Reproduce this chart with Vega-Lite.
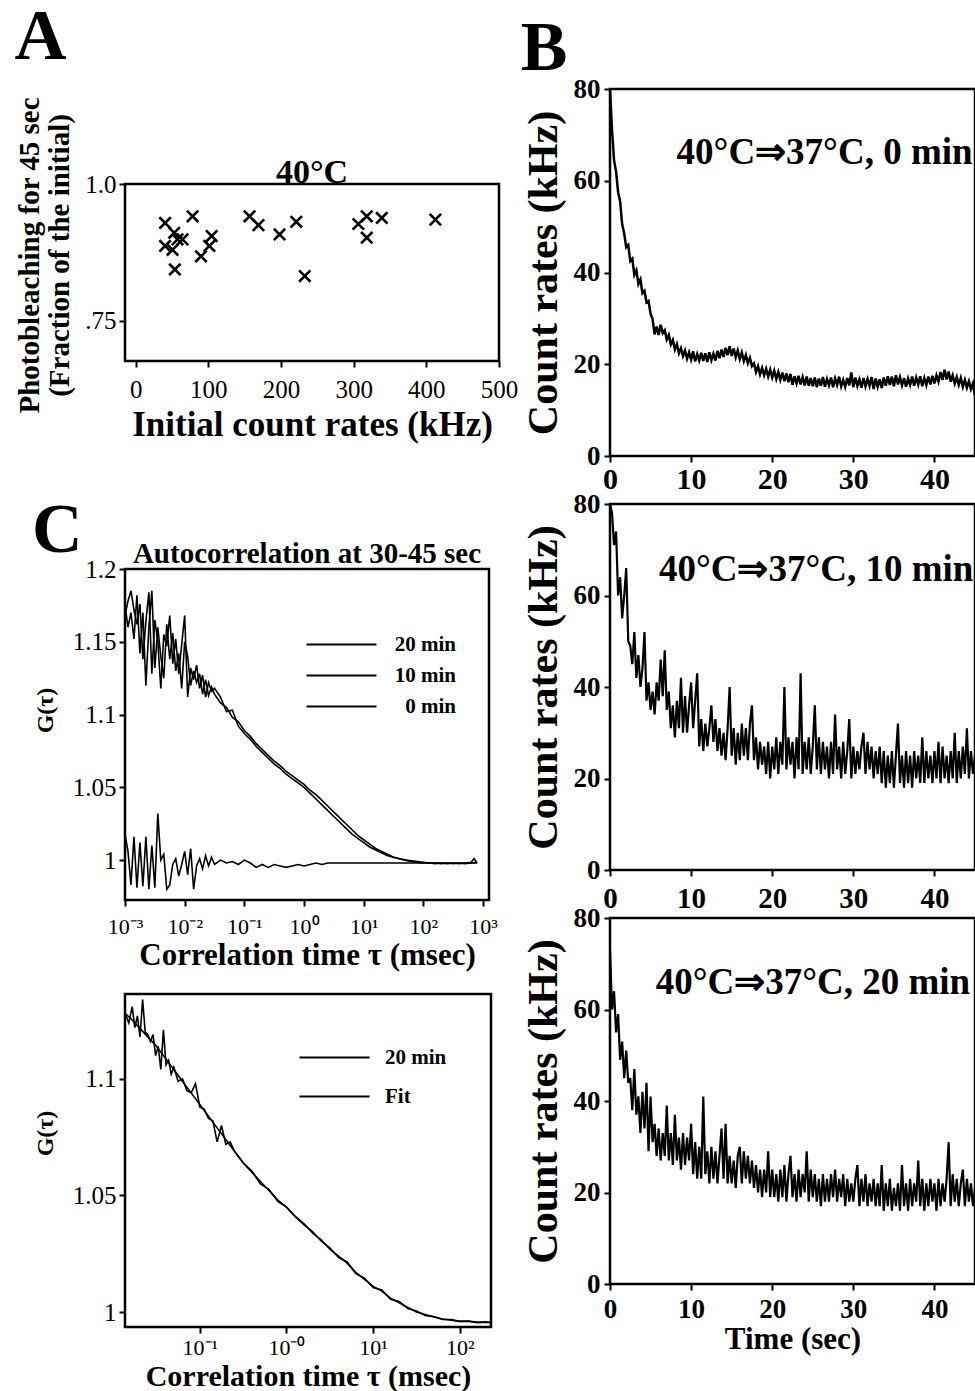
{
"$schema":"https://vega.github.io/schema/vega-lite/v6.json",
"background":"white",
"padding":{"left":14,"top":0,"right":0,"bottom":0},
"config":{
 "font":"Liberation Serif",
 "view":{"stroke":"black","strokeWidth":2.5},
 "axis":{"domain":false,"grid":false,"tickColor":"black","tickWidth":2,"tickSize":6,"labelColor":"black","titleColor":"black","labelFont":"Liberation Serif","titleFont":"Liberation Serif","titleFontWeight":"bold","labelFlush":false,"labelOverlap":false},
 "title":{"font":"Liberation Serif","color":"black","fontWeight":"bold"},
 "legend":{"labelFont":"Liberation Serif","labelColor":"black"},
 "text":{"font":"Liberation Serif","color":"black"}
},
"datasets":{
 "ptsA":[{"r":40.5,"f":0.929},{"r":78.3,"f":0.941},{"r":40.5,"f":0.887},{"r":53,"f":0.911},{"r":57.6,"f":0.899},{"r":64.5,"f":0.899},{"r":50.7,"f":0.88},{"r":53.9,"f":0.844},{"r":89.9,"f":0.868},{"r":104.6,"f":0.905},{"r":101.4,"f":0.887},{"r":156.7,"f":0.941},{"r":169,"f":0.925},{"r":198,"f":0.908},{"r":221,"f":0.931},{"r":232.7,"f":0.832},{"r":306.4,"f":0.927},{"r":318,"f":0.941},{"r":318,"f":0.902},{"r":338.7,"f":0.938},{"r":412.4,"f":0.935}],
 "b0":[
{"t":0,"c":80},{"t":0.25,"c":71},{"t":0.5,"c":64.5},{"t":0.75,"c":62},{"t":1,"c":57.5},{"t":1.25,"c":55.5},{"t":1.5,"c":50.5},{"t":1.75,"c":48.5},{"t":2,"c":45.5},{"t":2.25,"c":46},
{"t":2.5,"c":42.5},{"t":2.75,"c":43},{"t":3,"c":39.5},{"t":3.25,"c":40.5},{"t":3.5,"c":37.5},{"t":3.75,"c":38.5},{"t":4,"c":35.5},{"t":4.25,"c":36},{"t":4.5,"c":33.5},{"t":4.75,"c":33.8},
{"t":5,"c":31},{"t":5.25,"c":29.8},{"t":5.5,"c":26.5},{"t":5.75,"c":28.2},{"t":6,"c":26.4},{"t":6.25,"c":28.6},{"t":6.5,"c":26.8},{"t":6.75,"c":27.4},{"t":7,"c":25.4},{"t":7.25,"c":26.4},
{"t":7.5,"c":24.3},{"t":7.75,"c":25.3},{"t":8,"c":23.2},{"t":8.25,"c":24.4},{"t":8.5,"c":22.4},{"t":8.75,"c":23.5},{"t":9,"c":21.8},{"t":9.25,"c":23},{"t":9.5,"c":21.2},{"t":9.75,"c":22.6},
{"t":10,"c":21},{"t":10.25,"c":22.8},{"t":10.5,"c":20.6},{"t":10.75,"c":22.2},{"t":11,"c":20.8},{"t":11.25,"c":22.5},{"t":11.5,"c":20.7},{"t":11.75,"c":22.4},{"t":12,"c":20.5},{"t":12.25,"c":22.6},
{"t":12.5,"c":20.9},{"t":12.75,"c":22.3},{"t":13,"c":20.8},{"t":13.25,"c":22.9},{"t":13.5,"c":21.3},{"t":13.75,"c":23.2},{"t":14,"c":21.6},{"t":14.25,"c":23.6},{"t":14.5,"c":22},{"t":14.75,"c":23.9},
{"t":15,"c":21.8},{"t":15.25,"c":23.4},{"t":15.5,"c":21.5},{"t":15.75,"c":23},{"t":16,"c":21.1},{"t":16.25,"c":22.6},{"t":16.5,"c":20.7},{"t":16.75,"c":22},{"t":17,"c":20.2},{"t":17.25,"c":21.4},
{"t":17.5,"c":19.6},{"t":17.75,"c":20.2},{"t":18,"c":18.3},{"t":18.25,"c":19.6},{"t":18.5,"c":17.8},{"t":18.75,"c":19.2},{"t":19,"c":17.6},{"t":19.25,"c":19},{"t":19.5,"c":17.3},{"t":19.75,"c":18.8},
{"t":20,"c":17.1},{"t":20.25,"c":18.6},{"t":20.5,"c":16.8},{"t":20.75,"c":18.3},{"t":21,"c":16.6},{"t":21.25,"c":18.2},{"t":21.5,"c":16.3},{"t":21.75,"c":18},{"t":22,"c":16.1},{"t":22.25,"c":17.9},
{"t":22.5,"c":15.5},{"t":22.75,"c":17.4},{"t":23,"c":15.8},{"t":23.25,"c":17.5},{"t":23.5,"c":15.6},{"t":23.75,"c":17.2},{"t":24,"c":15.4},{"t":24.25,"c":17.3},{"t":24.5,"c":15.3},{"t":24.75,"c":17},
{"t":25,"c":15.2},{"t":25.25,"c":17.1},{"t":25.5,"c":15},{"t":25.75,"c":16.9},{"t":26,"c":15.3},{"t":26.25,"c":17.2},{"t":26.5,"c":15.1},{"t":26.75,"c":16.8},{"t":27,"c":15.4},{"t":27.25,"c":17.1},
{"t":27.5,"c":15},{"t":27.75,"c":16.9},{"t":28,"c":15.5},{"t":28.25,"c":17.3},{"t":28.5,"c":15.2},{"t":28.75,"c":16.6},{"t":29,"c":15.1},{"t":29.25,"c":17},{"t":29.5,"c":15.4},{"t":29.75,"c":18.2},
{"t":30,"c":15},{"t":30.25,"c":17.1},{"t":30.5,"c":15.3},{"t":30.75,"c":16.7},{"t":31,"c":14.9},{"t":31.25,"c":17},{"t":31.5,"c":15.2},{"t":31.75,"c":16.8},{"t":32,"c":15.3},{"t":32.25,"c":17.2},
{"t":32.5,"c":14.6},{"t":32.75,"c":16.9},{"t":33,"c":15.1},{"t":33.25,"c":16.7},{"t":33.5,"c":14.8},{"t":33.75,"c":17.1},{"t":34,"c":15.3},{"t":34.25,"c":17.4},{"t":34.5,"c":15.5},{"t":34.75,"c":17.3},
{"t":35,"c":15.2},{"t":35.25,"c":17.6},{"t":35.5,"c":15.6},{"t":35.75,"c":17.2},{"t":36,"c":15.4},{"t":36.25,"c":17},{"t":36.5,"c":15.1},{"t":36.75,"c":16.9},{"t":37,"c":15.5},{"t":37.25,"c":17.3},
{"t":37.5,"c":15.3},{"t":37.75,"c":17.1},{"t":38,"c":15.6},{"t":38.25,"c":17.4},{"t":38.5,"c":15.2},{"t":38.75,"c":17},{"t":39,"c":15.5},{"t":39.25,"c":17.3},{"t":39.5,"c":15.6},{"t":39.75,"c":17.5},
{"t":40,"c":15.8},{"t":40.25,"c":17.6},{"t":40.5,"c":16.2},{"t":40.75,"c":18.3},{"t":41,"c":16.6},{"t":41.25,"c":18.8},{"t":41.5,"c":16.7},{"t":41.75,"c":18.4},{"t":42,"c":16.2},{"t":42.25,"c":17.6},
{"t":42.5,"c":15.8},{"t":42.75,"c":17.2},{"t":43,"c":15.5},{"t":43.25,"c":17},{"t":43.5,"c":15.1},{"t":43.75,"c":16.6},{"t":44,"c":14.9},{"t":44.25,"c":16.3},{"t":44.5,"c":14.6},{"t":44.75,"c":15.8},
{"t":45,"c":13}],
 "b10":[
{"t":0,"c":80},{"t":0.25,"c":78},{"t":0.5,"c":71},{"t":0.75,"c":74},{"t":1,"c":60},{"t":1.25,"c":64},{"t":1.5,"c":55},{"t":1.75,"c":60},{"t":2,"c":66},{"t":2.25,"c":50},
{"t":2.5,"c":49},{"t":2.75,"c":45},{"t":3,"c":52},{"t":3.25,"c":42},{"t":3.5,"c":47},{"t":3.75,"c":40},{"t":4,"c":44},{"t":4.25,"c":52},{"t":4.5,"c":37},{"t":4.75,"c":41},
{"t":5,"c":35},{"t":5.25,"c":39},{"t":5.5,"c":34},{"t":5.75,"c":41},{"t":6,"c":37},{"t":6.25,"c":46},{"t":6.5,"c":38},{"t":6.75,"c":48},{"t":7,"c":35},{"t":7.25,"c":39},
{"t":7.5,"c":31},{"t":7.75,"c":36},{"t":8,"c":29},{"t":8.25,"c":37},{"t":8.5,"c":31},{"t":8.75,"c":42},{"t":9,"c":30},{"t":9.25,"c":38},{"t":9.5,"c":30},{"t":9.75,"c":36},
{"t":10,"c":41},{"t":10.25,"c":31},{"t":10.5,"c":37},{"t":10.75,"c":43},{"t":11,"c":27},{"t":11.25,"c":33},{"t":11.5,"c":26},{"t":11.75,"c":32},{"t":12,"c":27},{"t":12.25,"c":31},
{"t":12.5,"c":36},{"t":12.75,"c":28},{"t":13,"c":33},{"t":13.25,"c":26},{"t":13.5,"c":31},{"t":13.75,"c":25},{"t":14,"c":30},{"t":14.25,"c":24},{"t":14.5,"c":31},{"t":14.75,"c":40},
{"t":15,"c":25},{"t":15.25,"c":31},{"t":15.5,"c":23},{"t":15.75,"c":30},{"t":16,"c":24},{"t":16.25,"c":32},{"t":16.5,"c":25},{"t":16.75,"c":31},{"t":17,"c":24},{"t":17.25,"c":32},
{"t":17.5,"c":36},{"t":17.75,"c":24},{"t":18,"c":29},{"t":18.25,"c":22},{"t":18.5,"c":28},{"t":18.75,"c":23},{"t":19,"c":27},{"t":19.25,"c":21},{"t":19.5,"c":28},{"t":19.75,"c":20},
{"t":20,"c":27},{"t":20.25,"c":22},{"t":20.5,"c":29},{"t":20.75,"c":21},{"t":21,"c":28},{"t":21.25,"c":23},{"t":21.5,"c":40},{"t":21.75,"c":22},{"t":22,"c":29},{"t":22.25,"c":23},
{"t":22.5,"c":28},{"t":22.75,"c":20},{"t":23,"c":29},{"t":23.25,"c":22},{"t":23.5,"c":43},{"t":23.75,"c":21},{"t":24,"c":28},{"t":24.25,"c":22},{"t":24.5,"c":29},{"t":24.75,"c":21},
{"t":25,"c":27},{"t":25.25,"c":36},{"t":25.5,"c":22},{"t":25.75,"c":29},{"t":26,"c":21},{"t":26.25,"c":28},{"t":26.5,"c":22},{"t":26.75,"c":27},{"t":27,"c":20},{"t":27.25,"c":28},
{"t":27.5,"c":21},{"t":27.75,"c":34},{"t":28,"c":22},{"t":28.25,"c":27},{"t":28.5,"c":20},{"t":28.75,"c":28},{"t":29,"c":21},{"t":29.25,"c":26},{"t":29.5,"c":33},{"t":29.75,"c":20},
{"t":30,"c":27},{"t":30.25,"c":21},{"t":30.5,"c":26},{"t":30.75,"c":22},{"t":31,"c":27},{"t":31.25,"c":30},{"t":31.5,"c":21},{"t":31.75,"c":28},{"t":32,"c":22},{"t":32.25,"c":27},
{"t":32.5,"c":20},{"t":32.75,"c":26},{"t":33,"c":21},{"t":33.25,"c":27},{"t":33.5,"c":19},{"t":33.75,"c":26},{"t":34,"c":18},{"t":34.25,"c":25},{"t":34.5,"c":19},{"t":34.75,"c":26},
{"t":35,"c":18},{"t":35.25,"c":25},{"t":35.5,"c":32},{"t":35.75,"c":19},{"t":36,"c":25},{"t":36.25,"c":18},{"t":36.5,"c":26},{"t":36.75,"c":19},{"t":37,"c":25},{"t":37.25,"c":18},
{"t":37.5,"c":26},{"t":37.75,"c":20},{"t":38,"c":25},{"t":38.25,"c":19},{"t":38.5,"c":29},{"t":38.75,"c":19},{"t":39,"c":26},{"t":39.25,"c":20},{"t":39.5,"c":25},{"t":39.75,"c":19},
{"t":40,"c":26},{"t":40.25,"c":20},{"t":40.5,"c":28},{"t":40.75,"c":19},{"t":41,"c":27},{"t":41.25,"c":20},{"t":41.5,"c":25},{"t":41.75,"c":19},{"t":42,"c":26},{"t":42.25,"c":20},
{"t":42.5,"c":30},{"t":42.75,"c":19},{"t":43,"c":26},{"t":43.25,"c":20},{"t":43.5,"c":27},{"t":43.75,"c":21},{"t":44,"c":31},{"t":44.25,"c":20},{"t":44.5,"c":26},{"t":44.75,"c":21},
{"t":45,"c":25}],
 "b20":[
{"t":0,"c":73},{"t":0.25,"c":60},{"t":0.5,"c":64},{"t":0.75,"c":55},{"t":1,"c":59},{"t":1.25,"c":49},{"t":1.5,"c":53},{"t":1.75,"c":45},{"t":2,"c":51},{"t":2.25,"c":44},
{"t":2.5,"c":45},{"t":2.75,"c":38},{"t":3,"c":47},{"t":3.25,"c":37},{"t":3.5,"c":41},{"t":3.75,"c":33},{"t":4,"c":42},{"t":4.25,"c":34},{"t":4.5,"c":44},{"t":4.75,"c":29},
{"t":5,"c":41},{"t":5.25,"c":31},{"t":5.5,"c":35},{"t":5.75,"c":28},{"t":6,"c":34},{"t":6.25,"c":27},{"t":6.5,"c":33},{"t":6.75,"c":28},{"t":7,"c":39},{"t":7.25,"c":27},
{"t":7.5,"c":33},{"t":7.75,"c":26},{"t":8,"c":37},{"t":8.25,"c":27},{"t":8.5,"c":32},{"t":8.75,"c":25},{"t":9,"c":33},{"t":9.25,"c":26},{"t":9.5,"c":32},{"t":9.75,"c":27},
{"t":10,"c":35},{"t":10.25,"c":24},{"t":10.5,"c":31},{"t":10.75,"c":23},{"t":11,"c":30},{"t":11.25,"c":23},{"t":11.5,"c":41},{"t":11.75,"c":24},{"t":12,"c":29},{"t":12.25,"c":22},
{"t":12.5,"c":30},{"t":12.75,"c":23},{"t":13,"c":29},{"t":13.25,"c":22},{"t":13.5,"c":28},{"t":13.75,"c":34},{"t":14,"c":23},{"t":14.25,"c":35},{"t":14.5,"c":22},{"t":14.75,"c":28},
{"t":15,"c":22},{"t":15.25,"c":27},{"t":15.5,"c":21},{"t":15.75,"c":28},{"t":16,"c":30},{"t":16.25,"c":22},{"t":16.5,"c":29},{"t":16.75,"c":23},{"t":17,"c":28},{"t":17.25,"c":22},
{"t":17.5,"c":27},{"t":17.75,"c":21},{"t":18,"c":26},{"t":18.25,"c":20},{"t":18.5,"c":25},{"t":18.75,"c":19},{"t":19,"c":25},{"t":19.25,"c":20},{"t":19.5,"c":29},{"t":19.75,"c":19},
{"t":20,"c":25},{"t":20.25,"c":19},{"t":20.5,"c":24},{"t":20.75,"c":18},{"t":21,"c":25},{"t":21.25,"c":19},{"t":21.5,"c":26},{"t":21.75,"c":18},{"t":22,"c":24},{"t":22.25,"c":28},
{"t":22.5,"c":19},{"t":22.75,"c":24},{"t":23,"c":18},{"t":23.25,"c":25},{"t":23.5,"c":19},{"t":23.75,"c":24},{"t":24,"c":20},{"t":24.25,"c":29},{"t":24.5,"c":18},{"t":24.75,"c":25},
{"t":25,"c":19},{"t":25.25,"c":24},{"t":25.5,"c":18},{"t":25.75,"c":23},{"t":26,"c":17},{"t":26.25,"c":24},{"t":26.5,"c":18},{"t":26.75,"c":23},{"t":27,"c":18},{"t":27.25,"c":24},
{"t":27.5,"c":19},{"t":27.75,"c":25},{"t":28,"c":18},{"t":28.25,"c":23},{"t":28.5,"c":19},{"t":28.75,"c":24},{"t":29,"c":17},{"t":29.25,"c":23},{"t":29.5,"c":18},{"t":29.75,"c":22},
{"t":30,"c":18},{"t":30.25,"c":23},{"t":30.5,"c":26},{"t":30.75,"c":17},{"t":31,"c":23},{"t":31.25,"c":18},{"t":31.5,"c":24},{"t":31.75,"c":17},{"t":32,"c":22},{"t":32.25,"c":18},
{"t":32.5,"c":23},{"t":32.75,"c":17},{"t":33,"c":22},{"t":33.25,"c":17},{"t":33.5,"c":26},{"t":33.75,"c":16},{"t":34,"c":22},{"t":34.25,"c":17},{"t":34.5,"c":23},{"t":34.75,"c":16},
{"t":35,"c":21},{"t":35.25,"c":17},{"t":35.5,"c":22},{"t":35.75,"c":16},{"t":36,"c":26},{"t":36.25,"c":17},{"t":36.5,"c":22},{"t":36.75,"c":16},{"t":37,"c":23},{"t":37.25,"c":17},
{"t":37.5,"c":22},{"t":37.75,"c":18},{"t":38,"c":27},{"t":38.25,"c":17},{"t":38.5,"c":23},{"t":38.75,"c":16},{"t":39,"c":22},{"t":39.25,"c":17},{"t":39.5,"c":23},{"t":39.75,"c":18},
{"t":40,"c":22},{"t":40.25,"c":16},{"t":40.5,"c":23},{"t":40.75,"c":17},{"t":41,"c":22},{"t":41.25,"c":18},{"t":41.5,"c":23},{"t":41.75,"c":31},{"t":42,"c":17},{"t":42.25,"c":24},
{"t":42.5,"c":18},{"t":42.75,"c":23},{"t":43,"c":17},{"t":43.25,"c":22},{"t":43.5,"c":25},{"t":43.75,"c":17},{"t":44,"c":23},{"t":44.25,"c":18},{"t":44.5,"c":22},{"t":44.75,"c":17},
{"t":45,"c":21}],
 "ct":[
{"s":"20 min","tau":0.001,"g":1.168},{"s":"20 min","tau":0.001122,"g":1.178},{"s":"20 min","tau":0.001259,"g":1.185},{"s":"20 min","tau":0.001413,"g":1.172},{"s":"20 min","tau":0.001585,"g":1.162},{"s":"20 min","tau":0.001778,"g":1.176},{"s":"20 min","tau":0.001995,"g":1.138},{"s":"20 min","tau":0.002239,"g":1.164},{"s":"20 min","tau":0.002512,"g":1.184},{"s":"20 min","tau":0.002818,"g":1.128},{"s":"20 min","tau":0.003162,"g":1.165},{"s":"20 min","tau":0.003548,"g":1.15},{"s":"20 min","tau":0.003981,"g":1.118},{"s":"20 min","tau":0.004467,"g":1.155},{"s":"20 min","tau":0.005012,"g":1.147},{"s":"20 min","tau":0.005623,"g":1.168},{"s":"20 min","tau":0.00631,"g":1.135},{"s":"20 min","tau":0.007079,"g":1.152},{"s":"20 min","tau":0.007943,"g":1.128},{"s":"20 min","tau":0.008913,"g":1.148},{"s":"20 min","tau":0.01,"g":1.168},{"s":"20 min","tau":0.01122,"g":1.112},{"s":"20 min","tau":0.01259,"g":1.132},{"s":"20 min","tau":0.01413,"g":1.124},{"s":"20 min","tau":0.01585,"g":1.134},{"s":"20 min","tau":0.01778,"g":1.118},{"s":"20 min","tau":0.01995,"g":1.127},{"s":"20 min","tau":0.02239,"g":1.112},{"s":"20 min","tau":0.02512,"g":1.122},{"s":"20 min","tau":0.02818,"g":1.116},{"s":"20 min","tau":0.03162,"g":1.118},
{"s":"20 min","tau":0.03981,"g":1.112},{"s":"20 min","tau":0.05012,"g":1.102},{"s":"20 min","tau":0.0631,"g":1.103},{"s":"20 min","tau":0.07943,"g":1.092},{"s":"20 min","tau":0.1,"g":1.087},{"s":"20 min","tau":0.1259,"g":1.083},{"s":"20 min","tau":0.1585,"g":1.078},{"s":"20 min","tau":0.1995,"g":1.074},{"s":"20 min","tau":0.2512,"g":1.07},{"s":"20 min","tau":0.3162,"g":1.066},{"s":"20 min","tau":0.3981,"g":1.063},{"s":"20 min","tau":0.5012,"g":1.059},{"s":"20 min","tau":0.631,"g":1.056},{"s":"20 min","tau":0.7943,"g":1.053},{"s":"20 min","tau":1,"g":1.05},{"s":"20 min","tau":1.259,"g":1.046},{"s":"20 min","tau":1.585,"g":1.042},{"s":"20 min","tau":1.995,"g":1.038},{"s":"20 min","tau":2.512,"g":1.034},{"s":"20 min","tau":3.162,"g":1.03},{"s":"20 min","tau":3.981,"g":1.026},{"s":"20 min","tau":5.012,"g":1.022},{"s":"20 min","tau":6.31,"g":1.018},{"s":"20 min","tau":7.943,"g":1.015},{"s":"20 min","tau":10,"g":1.012},{"s":"20 min","tau":12.59,"g":1.009},{"s":"20 min","tau":15.85,"g":1.007},{"s":"20 min","tau":19.95,"g":1.005},{"s":"20 min","tau":25.12,"g":1.003},{"s":"20 min","tau":31.62,"g":1.002},{"s":"20 min","tau":39.81,"g":1.001},{"s":"20 min","tau":50.12,"g":1},{"s":"20 min","tau":63.1,"g":0.9995},{"s":"20 min","tau":79.43,"g":0.999},{"s":"20 min","tau":100,"g":0.9985},{"s":"20 min","tau":125.9,"g":0.998},{"s":"20 min","tau":158.5,"g":0.998},{"s":"20 min","tau":199.5,"g":0.9975},{"s":"20 min","tau":251.2,"g":0.998},{"s":"20 min","tau":316.2,"g":0.9975},{"s":"20 min","tau":398.1,"g":0.998},{"s":"20 min","tau":501.2,"g":0.9975},{"s":"20 min","tau":631,"g":0.998},{"s":"20 min","tau":794.3,"g":0.9985},
{"s":"10 min","tau":0.001,"g":1.175},{"s":"10 min","tau":0.001122,"g":1.16},{"s":"10 min","tau":0.001259,"g":1.17},{"s":"10 min","tau":0.001413,"g":1.152},{"s":"10 min","tau":0.001585,"g":1.182},{"s":"10 min","tau":0.001778,"g":1.142},{"s":"10 min","tau":0.001995,"g":1.17},{"s":"10 min","tau":0.002239,"g":1.12},{"s":"10 min","tau":0.002512,"g":1.16},{"s":"10 min","tau":0.002818,"g":1.185},{"s":"10 min","tau":0.003162,"g":1.132},{"s":"10 min","tau":0.003548,"g":1.16},{"s":"10 min","tau":0.003981,"g":1.14},{"s":"10 min","tau":0.004467,"g":1.125},{"s":"10 min","tau":0.005012,"g":1.162},{"s":"10 min","tau":0.005623,"g":1.138},{"s":"10 min","tau":0.00631,"g":1.156},{"s":"10 min","tau":0.007079,"g":1.13},{"s":"10 min","tau":0.007943,"g":1.142},{"s":"10 min","tau":0.008913,"g":1.118},{"s":"10 min","tau":0.01,"g":1.15},{"s":"10 min","tau":0.01122,"g":1.14},{"s":"10 min","tau":0.01259,"g":1.12},{"s":"10 min","tau":0.01413,"g":1.13},{"s":"10 min","tau":0.01585,"g":1.122},{"s":"10 min","tau":0.01778,"g":1.128},{"s":"10 min","tau":0.01995,"g":1.114},{"s":"10 min","tau":0.02239,"g":1.124},{"s":"10 min","tau":0.02512,"g":1.113},{"s":"10 min","tau":0.02818,"g":1.119},{"s":"10 min","tau":0.03162,"g":1.114},
{"s":"10 min","tau":0.03981,"g":1.108},{"s":"10 min","tau":0.05012,"g":1.105},{"s":"10 min","tau":0.0631,"g":1.098},{"s":"10 min","tau":0.07943,"g":1.095},{"s":"10 min","tau":0.1,"g":1.089},{"s":"10 min","tau":0.1259,"g":1.085},{"s":"10 min","tau":0.1585,"g":1.08},{"s":"10 min","tau":0.1995,"g":1.076},{"s":"10 min","tau":0.2512,"g":1.072},{"s":"10 min","tau":0.3162,"g":1.068},{"s":"10 min","tau":0.3981,"g":1.065},{"s":"10 min","tau":0.5012,"g":1.061},{"s":"10 min","tau":0.631,"g":1.058},{"s":"10 min","tau":0.7943,"g":1.055},{"s":"10 min","tau":1,"g":1.052},{"s":"10 min","tau":1.259,"g":1.048},{"s":"10 min","tau":1.585,"g":1.045},{"s":"10 min","tau":1.995,"g":1.041},{"s":"10 min","tau":2.512,"g":1.037},{"s":"10 min","tau":3.162,"g":1.033},{"s":"10 min","tau":3.981,"g":1.029},{"s":"10 min","tau":5.012,"g":1.025},{"s":"10 min","tau":6.31,"g":1.021},{"s":"10 min","tau":7.943,"g":1.017},{"s":"10 min","tau":10,"g":1.014},{"s":"10 min","tau":12.59,"g":1.011},{"s":"10 min","tau":15.85,"g":1.008},{"s":"10 min","tau":19.95,"g":1.006},{"s":"10 min","tau":25.12,"g":1.004},{"s":"10 min","tau":31.62,"g":1.002},{"s":"10 min","tau":39.81,"g":1.001},{"s":"10 min","tau":50.12,"g":1},{"s":"10 min","tau":63.1,"g":0.999},{"s":"10 min","tau":79.43,"g":0.9985},{"s":"10 min","tau":100,"g":0.998},{"s":"10 min","tau":125.9,"g":0.998},{"s":"10 min","tau":158.5,"g":0.9975},{"s":"10 min","tau":199.5,"g":0.998},{"s":"10 min","tau":251.2,"g":0.9975},{"s":"10 min","tau":316.2,"g":0.998},{"s":"10 min","tau":398.1,"g":0.9975},{"s":"10 min","tau":501.2,"g":0.998},{"s":"10 min","tau":631,"g":0.9985},{"s":"10 min","tau":707.9,"g":1.001},{"s":"10 min","tau":794.3,"g":0.998},
{"s":"0 min","tau":0.001,"g":1.018},{"s":"0 min","tau":0.001122,"g":1.006},{"s":"0 min","tau":0.001259,"g":0.983},{"s":"0 min","tau":0.001413,"g":1.016},{"s":"0 min","tau":0.001585,"g":0.981},{"s":"0 min","tau":0.001778,"g":1.012},{"s":"0 min","tau":0.001995,"g":0.982},{"s":"0 min","tau":0.002239,"g":1.016},{"s":"0 min","tau":0.002512,"g":0.98},{"s":"0 min","tau":0.002818,"g":1.01},{"s":"0 min","tau":0.003162,"g":0.981},{"s":"0 min","tau":0.003548,"g":1.032},{"s":"0 min","tau":0.003981,"g":1},{"s":"0 min","tau":0.004467,"g":1.004},{"s":"0 min","tau":0.005012,"g":0.98},{"s":"0 min","tau":0.005623,"g":0.983},{"s":"0 min","tau":0.00631,"g":0.997},{"s":"0 min","tau":0.007079,"g":1.001},{"s":"0 min","tau":0.007943,"g":0.989},{"s":"0 min","tau":0.008913,"g":0.997},{"s":"0 min","tau":0.01,"g":1.006},{"s":"0 min","tau":0.01122,"g":0.99},{"s":"0 min","tau":0.01259,"g":1.008},{"s":"0 min","tau":0.01413,"g":0.98},{"s":"0 min","tau":0.01585,"g":0.996},{"s":"0 min","tau":0.01778,"g":1.001},{"s":"0 min","tau":0.01995,"g":0.994},{"s":"0 min","tau":0.02239,"g":1.003},{"s":"0 min","tau":0.02512,"g":0.996},{"s":"0 min","tau":0.02818,"g":1.002},{"s":"0 min","tau":0.03162,"g":0.997},
{"s":"0 min","tau":0.03981,"g":1},{"s":"0 min","tau":0.05012,"g":0.998},{"s":"0 min","tau":0.0631,"g":0.999},{"s":"0 min","tau":0.07943,"g":0.997},{"s":"0 min","tau":0.1,"g":1},{"s":"0 min","tau":0.1259,"g":0.998},{"s":"0 min","tau":0.1585,"g":0.995},{"s":"0 min","tau":0.1995,"g":0.997},{"s":"0 min","tau":0.2512,"g":0.995},{"s":"0 min","tau":0.3162,"g":0.997},{"s":"0 min","tau":0.3981,"g":0.996},{"s":"0 min","tau":0.5012,"g":0.995},{"s":"0 min","tau":0.631,"g":0.996},{"s":"0 min","tau":0.7943,"g":0.997},{"s":"0 min","tau":1,"g":0.996},{"s":"0 min","tau":1.259,"g":0.997},{"s":"0 min","tau":1.585,"g":0.998},{"s":"0 min","tau":1.995,"g":0.997},{"s":"0 min","tau":2.512,"g":0.998},{"s":"0 min","tau":3.981,"g":0.998},{"s":"0 min","tau":10,"g":0.998},{"s":"0 min","tau":31.62,"g":0.998},{"s":"0 min","tau":100,"g":0.998},{"s":"0 min","tau":316.2,"g":0.998},{"s":"0 min","tau":794.3,"g":0.998}],
 "cb":[
{"s":"20 min","tau":0.0138,"g":1.128},{"s":"20 min","tau":0.01514,"g":1.124},{"s":"20 min","tau":0.0166,"g":1.131},{"s":"20 min","tau":0.01778,"g":1.122},{"s":"20 min","tau":0.01905,"g":1.127},{"s":"20 min","tau":0.02042,"g":1.118},{"s":"20 min","tau":0.02188,"g":1.134},{"s":"20 min","tau":0.02344,"g":1.12},{"s":"20 min","tau":0.02512,"g":1.119},{"s":"20 min","tau":0.02692,"g":1.116},{"s":"20 min","tau":0.02884,"g":1.119},{"s":"20 min","tau":0.0309,"g":1.11},{"s":"20 min","tau":0.03311,"g":1.114},{"s":"20 min","tau":0.03548,"g":1.104},{"s":"20 min","tau":0.03802,"g":1.121},{"s":"20 min","tau":0.04074,"g":1.106},{"s":"20 min","tau":0.04365,"g":1.108},{"s":"20 min","tau":0.04677,"g":1.102},{"s":"20 min","tau":0.05012,"g":1.105},{"s":"20 min","tau":0.05623,"g":1.099},{"s":"20 min","tau":0.0631,"g":1.1},{"s":"20 min","tau":0.07079,"g":1.095},{"s":"20 min","tau":0.07943,"g":1.094},{"s":"20 min","tau":0.08913,"g":1.098},{"s":"20 min","tau":0.1,"g":1.088},{"s":"20 min","tau":0.1122,"g":1.087},{"s":"20 min","tau":0.1259,"g":1.083},{"s":"20 min","tau":0.1413,"g":1.082},{"s":"20 min","tau":0.1585,"g":1.073},{"s":"20 min","tau":0.1778,"g":1.08},{"s":"20 min","tau":0.1995,"g":1.072},{"s":"20 min","tau":0.2239,"g":1.073},{"s":"20 min","tau":0.2512,"g":1.069},{"s":"20 min","tau":0.3162,"g":1.064},{"s":"20 min","tau":0.3981,"g":1.0605},{"s":"20 min","tau":0.5012,"g":1.055},{"s":"20 min","tau":0.631,"g":1.0525},{"s":"20 min","tau":0.7943,"g":1.0475},{"s":"20 min","tau":1,"g":1.045},{"s":"20 min","tau":1.259,"g":1.041},{"s":"20 min","tau":1.585,"g":1.0375},{"s":"20 min","tau":1.995,"g":1.0345},{"s":"20 min","tau":2.512,"g":1.0305},{"s":"20 min","tau":3.162,"g":1.0275},{"s":"20 min","tau":3.981,"g":1.0235},{"s":"20 min","tau":5.012,"g":1.0215},{"s":"20 min","tau":6.31,"g":1.0165},{"s":"20 min","tau":7.943,"g":1.0145},{"s":"20 min","tau":10,"g":1.0105},{"s":"20 min","tau":12.59,"g":1.0095},{"s":"20 min","tau":15.85,"g":1.0055},{"s":"20 min","tau":19.95,"g":1.0045},{"s":"20 min","tau":25.12,"g":1.0015},{"s":"20 min","tau":31.62,"g":1.0005},{"s":"20 min","tau":39.81,"g":0.9985},{"s":"20 min","tau":50.12,"g":0.998},{"s":"20 min","tau":63.1,"g":0.9968},{"s":"20 min","tau":79.43,"g":0.9968},{"s":"20 min","tau":100,"g":0.996},{"s":"20 min","tau":125.9,"g":0.9962},{"s":"20 min","tau":158.5,"g":0.9955},{"s":"20 min","tau":199.5,"g":0.9958},{"s":"20 min","tau":229,"g":0.9955},
{"s":"Fit","tau":0.0138,"g":1.128},{"s":"Fit","tau":0.01585,"g":1.126},{"s":"Fit","tau":0.01995,"g":1.122},{"s":"Fit","tau":0.02512,"g":1.118},{"s":"Fit","tau":0.03162,"g":1.114},{"s":"Fit","tau":0.03981,"g":1.109},{"s":"Fit","tau":0.05012,"g":1.104},{"s":"Fit","tau":0.0631,"g":1.099},{"s":"Fit","tau":0.07943,"g":1.094},{"s":"Fit","tau":0.1,"g":1.089},{"s":"Fit","tau":0.1259,"g":1.084},{"s":"Fit","tau":0.1585,"g":1.079},{"s":"Fit","tau":0.1995,"g":1.074},{"s":"Fit","tau":0.2512,"g":1.069},{"s":"Fit","tau":0.3162,"g":1.064},{"s":"Fit","tau":0.3981,"g":1.06},{"s":"Fit","tau":0.5012,"g":1.056},{"s":"Fit","tau":0.631,"g":1.052},{"s":"Fit","tau":0.7943,"g":1.048},{"s":"Fit","tau":1,"g":1.045},{"s":"Fit","tau":1.259,"g":1.041},{"s":"Fit","tau":1.585,"g":1.038},{"s":"Fit","tau":1.995,"g":1.034},{"s":"Fit","tau":2.512,"g":1.031},{"s":"Fit","tau":3.162,"g":1.027},{"s":"Fit","tau":3.981,"g":1.024},{"s":"Fit","tau":5.012,"g":1.021},{"s":"Fit","tau":6.31,"g":1.017},{"s":"Fit","tau":7.943,"g":1.014},{"s":"Fit","tau":10,"g":1.011},{"s":"Fit","tau":12.59,"g":1.009},{"s":"Fit","tau":15.85,"g":1.006},{"s":"Fit","tau":19.95,"g":1.004},{"s":"Fit","tau":25.12,"g":1.002},{"s":"Fit","tau":31.62,"g":1},{"s":"Fit","tau":39.81,"g":0.999},{"s":"Fit","tau":50.12,"g":0.998},{"s":"Fit","tau":63.1,"g":0.997},{"s":"Fit","tau":79.43,"g":0.9965},{"s":"Fit","tau":100,"g":0.996},{"s":"Fit","tau":125.9,"g":0.996},{"s":"Fit","tau":158.5,"g":0.9957},{"s":"Fit","tau":199.5,"g":0.9955},{"s":"Fit","tau":229,"g":0.9955}]
},
"hconcat":[
 {
  "title":{"text":"A","anchor":"start","fontSize":72,"offset":-47,"baseline":"alphabetic"},
  "spacing":51,
  "vconcat":[
   {
    "spacing":0,
    "vconcat":[
     {"width":374,"height":1,"view":{"stroke":null},"data":{"values":[{}]},"mark":{"type":"text"},"encoding":{"text":{"value":""}}},
     {
      "width":374,"height":177,
      "title":{"text":"40°C","fontSize":34,"baseline":"alphabetic","offset":-120,"frame":"group"},
      "data":{"name":"ptsA"},
      "mark":{"type":"point","shape":"M-1,-1L1,1M-1,1L1,-1","filled":false,"color":"black","opacity":1,"strokeWidth":2.6,"size":130},
      "encoding":{
       "x":{"field":"r","type":"quantitative","scale":{"domain":[-14.7,500],"nice":false,"zero":false},"axis":{"values":[0,100,200,300,400,500],"title":"Initial count rates (kHz)","titleFontSize":35,"labelFontSize":25,"labelPadding":10,"titlePadding":5}},
       "y":{"field":"f","type":"quantitative","scale":{"domain":[0.677,1.0],"nice":false,"zero":false},"axis":{"values":[0.75,1.0],"labelExpr":"datum.value > 0.9 ? '1.0' : '.75'","title":["Photobleaching for 45 sec","(Fraction of the initial)"],"titleFontSize":29,"titleLineHeight":30,"titleY":71,"titlePadding":10,"labelFontSize":25,"labelPadding":3}}
      }
     }
    ]
   },
   {
    "title":{"text":"C","anchor":"start","fontSize":70,"offset":-83,"baseline":"alphabetic"},
    "spacing":94,
    "bounds":"flush",
    "resolve":{"scale":{"color":"independent"},"legend":{"color":"independent"}},
    "vconcat":[
     {
      "width":364,"height":331,
      "title":{"text":"Autocorrelation at 30-45 sec","fontSize":29,"baseline":"alphabetic","offset":-35,"frame":"group"},
      "data":{"name":"ct"},
      "mark":{"type":"line","strokeWidth":1.6,"clip":true},
      "encoding":{
       "x":{"field":"tau","type":"quantitative","scale":{"type":"log","domain":[0.001,1259],"nice":false},"axis":{"values":[0.001,0.01,0.1,1,10,100,1000],"labelExpr":"datum.value < 0.005 ? '10⁻³' : datum.value < 0.05 ? '10⁻²' : datum.value < 0.5 ? '10⁻¹' : datum.value < 5 ? '10⁰' : datum.value < 50 ? '10¹' : datum.value < 500 ? '10²' : '10³'","labelFontSize":22,"labelPadding":10,"title":"Correlation time τ (msec)","titleFontSize":31,"titlePadding":3}},
       "y":{"field":"g","type":"quantitative","scale":{"domain":[0.9726,1.2],"nice":false,"zero":false},"axis":{"values":[1,1.05,1.1,1.15,1.2],"format":"~g","labelFontSize":25,"labelPadding":3,"title":"G(τ)","titleFontSize":24,"titleY":141,"titlePadding":15}},
       "color":{"field":"s","type":"nominal","scale":{"domain":["20 min","10 min","0 min"],"range":["black","black","black"]},"legend":{"orient":"none","legendX":206,"legendY":65,"title":null,"direction":"vertical","symbolType":"M-5,0H5","symbolSize":196,"symbolStrokeWidth":2.2,"symbolStrokeColor":"black","symbolFillColor":"transparent","labelFontSize":21,"labelFontWeight":"bold","labelAlign":"right","labelOffset":104,"rowPadding":9,"padding":0}}
      }
     },
     {
      "width":366,"height":333,
      "data":{"name":"cb"},
      "mark":{"type":"line","strokeWidth":1.6,"clip":true},
      "encoding":{
       "x":{"field":"tau","type":"quantitative","scale":{"type":"log","domain":[0.0137,229],"nice":false},"axis":{"values":[0.1,1,10,100],"labelExpr":"datum.value < 0.5 ? '10⁻¹' : datum.value < 5 ? '10⁻⁰' : datum.value < 50 ? '10¹' : '10²'","labelFontSize":22,"labelPadding":4,"title":"Correlation time τ (msec)","titleFontSize":30,"titlePadding":3}},
       "y":{"field":"g","type":"quantitative","scale":{"domain":[0.9936,1.1364],"nice":false,"zero":false},"axis":{"values":[1,1.05,1.1],"format":"~g","labelFontSize":25,"labelPadding":3,"title":"G(τ)","titleFontSize":24,"titleY":139,"titlePadding":15}},
       "color":{"field":"s","type":"nominal","scale":{"domain":["20 min","Fit"],"range":["black","black"]},"legend":{"orient":"none","legendX":199,"legendY":53,"title":null,"direction":"vertical","symbolType":"M-5,0H5","symbolSize":196,"symbolStrokeWidth":2.2,"symbolStrokeColor":"black","symbolFillColor":"transparent","labelFontSize":21,"labelFontWeight":"bold","labelOffset":40,"rowPadding":17,"padding":0}}
      }
     }
    ]
   }
  ]
 },
 {
  "title":{"text":"B","anchor":"start","fontSize":70,"offset":-66,"baseline":"alphabetic"},
  "spacing":48,
  "bounds":"flush",
  "vconcat":[
   {
    "width":365,"height":367,
    "layer":[
     {"data":{"name":"b0"},"mark":{"type":"line","color":"black","strokeWidth":2.5,"clip":true},
      "encoding":{
       "x":{"field":"t","type":"quantitative","scale":{"domain":[0,45],"nice":false},"axis":{"values":[0,10,20,30,40],"title":null,"labelFontSize":30,"labelFontWeight":"bold","labelPadding":2}},
       "y":{"field":"c","type":"quantitative","scale":{"domain":[0,80],"nice":false},"axis":{"values":[0,20,40,60,80],"title":"Count rates (kHz)","titleFontSize":42,"labelFontSize":27,"labelFontWeight":"bold","labelPadding":4,"titlePadding":8}}}},
     {"data":{"values":[{"label":"40°C⇒37°C, 0 min"}]},"mark":{"type":"text","align":"right","baseline":"alphabetic","fontSize":37,"fontWeight":"bold"},
      "encoding":{
       "x":{"datum":44.7,"type":"quantitative","axis":{"values":[0,10,20,30,40],"title":null,"labelFontSize":30,"labelFontWeight":"bold","labelPadding":2}},
       "y":{"datum":63.7,"type":"quantitative","axis":{"values":[0,20,40,60,80],"title":"Count rates (kHz)","titleFontSize":42,"labelFontSize":27,"labelFontWeight":"bold","labelPadding":4,"titlePadding":8}},
       "text":{"field":"label"}}}
    ]
   },
   {
    "width":365,"height":366,
    "layer":[
     {"data":{"name":"b10"},"mark":{"type":"line","color":"black","strokeWidth":2.2,"clip":true},
      "encoding":{
       "x":{"field":"t","type":"quantitative","scale":{"domain":[0,45],"nice":false},"axis":{"values":[0,10,20,30,40],"title":null,"labelFontSize":29,"labelFontWeight":"bold","labelPadding":8}},
       "y":{"field":"c","type":"quantitative","scale":{"domain":[0,80],"nice":false},"axis":{"values":[0,20,40,60,80],"title":"Count rates (kHz)","titleFontSize":42,"labelFontSize":27,"labelFontWeight":"bold","labelPadding":4,"titlePadding":8}}}},
     {"data":{"values":[{"label":"40°C⇒37°C, 10 min"}]},"mark":{"type":"text","align":"right","baseline":"alphabetic","fontSize":37,"fontWeight":"bold"},
      "encoding":{
       "x":{"datum":44.8,"type":"quantitative","axis":{"values":[0,10,20,30,40],"title":null,"labelFontSize":29,"labelFontWeight":"bold","labelPadding":8}},
       "y":{"datum":63.1,"type":"quantitative","axis":{"values":[0,20,40,60,80],"title":"Count rates (kHz)","titleFontSize":42,"labelFontSize":27,"labelFontWeight":"bold","labelPadding":4,"titlePadding":8}},
       "text":{"field":"label"}}}
    ]
   },
   {
    "width":365,"height":366,
    "layer":[
     {"data":{"name":"b20"},"mark":{"type":"line","color":"black","strokeWidth":2.2,"clip":true},
      "encoding":{
       "x":{"field":"t","type":"quantitative","scale":{"domain":[0,45],"nice":false},"axis":{"values":[0,10,20,30,40],"title":"Time (sec)","titleFontSize":31,"titlePadding":2,"labelFontSize":27,"labelFontWeight":"bold","labelPadding":6}},
       "y":{"field":"c","type":"quantitative","scale":{"domain":[0,80],"nice":false},"axis":{"values":[0,20,40,60,80],"title":"Count rates (kHz)","titleFontSize":42,"labelFontSize":27,"labelFontWeight":"bold","labelPadding":4,"titlePadding":8}}}},
     {"data":{"values":[{"label":"40°C⇒37°C, 20 min"}]},"mark":{"type":"text","align":"right","baseline":"alphabetic","fontSize":37,"fontWeight":"bold"},
      "encoding":{
       "x":{"datum":44.4,"type":"quantitative","axis":{"values":[0,10,20,30,40],"title":"Time (sec)","titleFontSize":31,"titlePadding":2,"labelFontSize":27,"labelFontWeight":"bold","labelPadding":6}},
       "y":{"datum":63.3,"type":"quantitative","axis":{"values":[0,20,40,60,80],"title":"Count rates (kHz)","titleFontSize":42,"labelFontSize":27,"labelFontWeight":"bold","labelPadding":4,"titlePadding":8}},
       "text":{"field":"label"}}}
    ]
   }
  ]
 }
],
"spacing":1
}
